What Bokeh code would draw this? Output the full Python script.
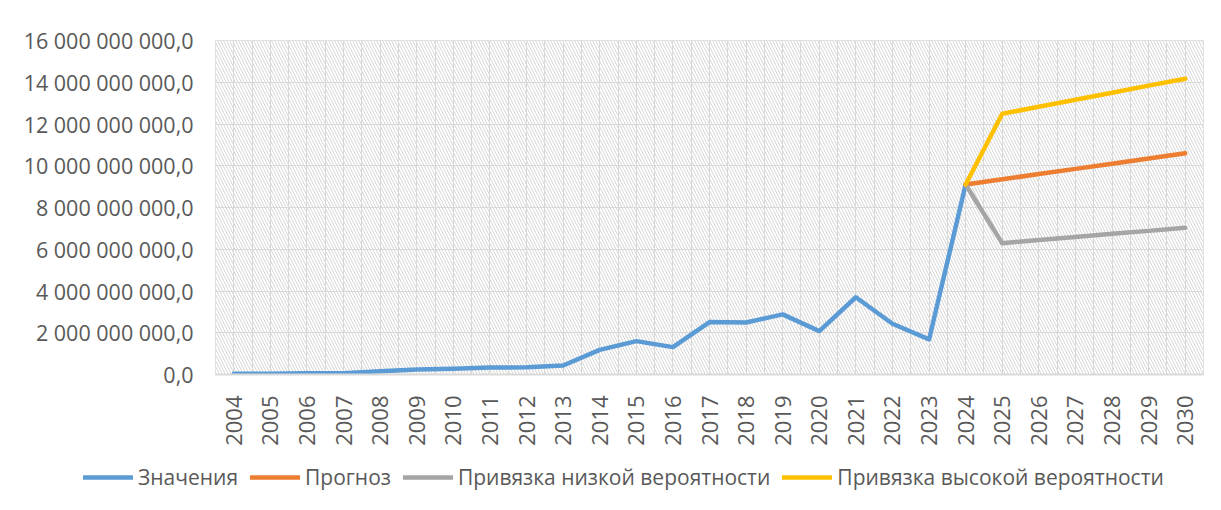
import math
from bokeh.plotting import figure
from bokeh.layouts import column
from bokeh.models import FixedTicker, Legend, LegendItem, BoxAnnotation, Range1d
from bokeh.embed import file_html
from bokeh.resources import INLINE

# ---------------- data ----------------
years = ["2004", "2005", "2006", "2007", "2008", "2009", "2010", "2011", "2012",
         "2013", "2014", "2015", "2016", "2017", "2018", "2019", "2020", "2021",
         "2022", "2023", "2024", "2025", "2026", "2027", "2028", "2029", "2030"]

# "Значения" 2004..2024
values = [0.03e9, 0.03e9, 0.06e9, 0.06e9, 0.16e9, 0.24e9, 0.27e9, 0.33e9, 0.35e9,
          0.43e9, 1.18e9, 1.60e9, 1.31e9, 2.51e9, 2.49e9, 2.88e9, 2.08e9, 3.70e9,
          2.43e9, 1.68e9, 9.10e9]

# 2024..2030
forecast_years = ["2024", "2025", "2026", "2027", "2028", "2029", "2030"]
forecast = [9.10e9, 9.35e9, 9.60e9, 9.85e9, 10.10e9, 10.35e9, 10.60e9]
low = [9.10e9, 6.29e9, 6.44e9, 6.59e9, 6.74e9, 6.88e9, 7.03e9]
high = [9.10e9, 12.49e9, 12.83e9, 13.16e9, 13.50e9, 13.84e9, 14.17e9]

series_names = ["Значения", "Прогноз", "Привязка низкой вероятности", "Привязка высокой вероятности"]

y_ticks = [0, 2e9, 4e9, 6e9, 8e9, 10e9, 12e9, 14e9, 16e9]
y_tick_labels = ["0,0", "2 000 000 000,0", "4 000 000 000,0", "6 000 000 000,0",
                 "8 000 000 000,0", "10 000 000 000,0", "12 000 000 000,0",
                 "14 000 000 000,0", "16 000 000 000,0"]

# ---------------- style ----------------
FONT = "Open Sans"
TXT = "#595959"
GRID = "#d9d9d9"
COLORS = ["#5b9bd5", "#ed7d31", "#a5a5a5", "#ffc000"]
LW = 4.5

W = 1213
MAIN_H = 450
FRAME_W, FRAME_H = 988, 334
LEFT, TOP = 215, 40

p = figure(width=W, height=MAIN_H, output_backend="svg", toolbar_location=None,
           x_range=(-0.5, len(years) - 0.5), y_range=(y_ticks[0], y_ticks[-1]),
           min_border_left=LEFT, min_border_top=TOP,
           min_border_right=W - LEFT - FRAME_W,
           min_border_bottom=MAIN_H - TOP - FRAME_H)
p.background_fill_color = "white"
p.border_fill_color = "white"
p.outline_line_color = GRID

# hatched plot area
p.add_layout(BoxAnnotation(level="image", fill_color="white", fill_alpha=1.0,
                           hatch_pattern="left_diagonal_line", hatch_color="#d6d6d6",
                           hatch_scale=6, hatch_weight=1, line_alpha=0))

idx = {y: i for i, y in enumerate(years)}
x_vals = [idx[y] for y in years[:len(values)]]
x_fc = [idx[y] for y in forecast_years]

series_data = [(x_vals, values), (x_fc, forecast), (x_fc, low), (x_fc, high)]
for (xs, ys), c in zip(series_data, COLORS):
    p.line(xs, ys, line_color=c, line_width=LW, line_join="round", line_cap="round")

# grids
p.xgrid.ticker = FixedTicker(ticks=[i * 0.5 - 0.5 for i in range(2 * len(years) + 1)])
p.xgrid.grid_line_color = GRID
p.ygrid.ticker = FixedTicker(ticks=y_ticks)
p.ygrid.grid_line_color = GRID

# axes
xa = p.xaxis[0]
xa.ticker = FixedTicker(ticks=list(range(len(years))))
xa.major_label_overrides = {i: y for i, y in enumerate(years)}
xa.major_label_orientation = math.pi / 2
xa.major_label_text_font = FONT
xa.major_label_text_font_size = "22px"
xa.major_label_text_color = TXT
xa.major_label_standoff = 15
xa.axis_line_color = GRID
xa.axis_line_width = 2
xa.major_tick_line_color = None
xa.minor_tick_line_color = None

ya = p.yaxis[0]
ya.ticker = FixedTicker(ticks=y_ticks)
ya.major_label_overrides = {t: l for t, l in zip(y_ticks, y_tick_labels)}
ya.major_label_text_font = FONT
ya.major_label_text_font_size = "21.5px"
ya.major_label_text_color = TXT
ya.major_label_standoff = 16
ya.axis_line_color = None
ya.major_tick_line_color = None
ya.minor_tick_line_color = None

# ---------------- legend strip ----------------
LEG_H = 60
pl = figure(width=W, height=LEG_H, output_backend="svg", toolbar_location=None,
            x_axis_location=None, y_axis_location=None,
            x_range=Range1d(0, 1), y_range=Range1d(0, 1),
            min_border=0, min_border_left=0, min_border_right=0,
            min_border_top=0, min_border_bottom=0)
if hasattr(pl, "frame_align"):
    pl.frame_align = False
    p.frame_align = False
pl.outline_line_color = None
pl.background_fill_color = "white"
pl.border_fill_color = "white"
pl.xgrid.visible = False
pl.ygrid.visible = False

# legend-only renderers (a single undefined point each, nothing is drawn)
leg_renderers = [pl.line([math.nan], [math.nan], line_color=c, line_width=LW, line_cap="round")
                 for c in COLORS]
legend = Legend(items=[LegendItem(label=n, renderers=[r]) for n, r in zip(series_names, leg_renderers)],
                orientation="horizontal", location=(83, 19),
                label_text_font=FONT, label_text_font_size="21px", label_text_color=TXT,
                glyph_width=50, glyph_height=14, label_height=14, label_standoff=5,
                spacing=12, padding=0, margin=0,
                border_line_alpha=0, background_fill_alpha=0)
pl.add_layout(legend, "center")

layout = column(p, pl, spacing=0)
open("out.html", "w").write(file_html(layout, INLINE))
